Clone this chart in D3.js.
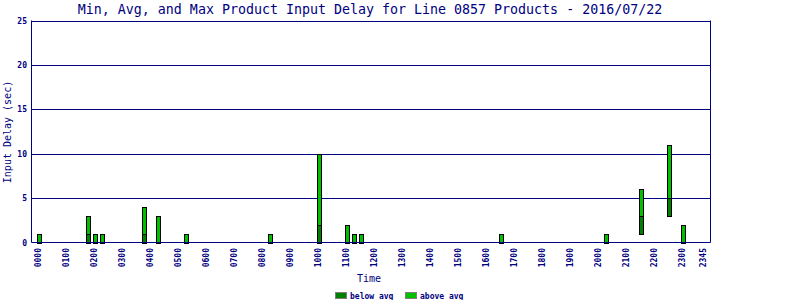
<!DOCTYPE html>
<html><head><meta charset="utf-8">
<script src="https://cdn.jsdelivr.net/npm/d3@7"></script>
<style>
body{margin:0;background:#fff;}
svg{display:block;}
text{font-family:"DejaVu Sans Mono","Liberation Mono",monospace;fill:#000080;}
</style></head>
<body>
<svg id="chart" width="800" height="300"></svg>
<script>
const titleText = "Min, Avg, and Max Product Input Delay for Line 0857 Products - 2016/07/22";
const xTickLabels = ["0000","0100","0200","0300","0400","0500","0600","0700","0800","0900","1000","1100","1200","1300","1400","1500","1600","1700","1800","1900","2000","2100","2200","2300","2345"];
const yTicks = [0,5,10,15,20,25];
const barTimes = ["0000","0145","0200","0215","0345","0415","0515","0815","1000","1100","1115","1130","1630","2015","2130","2230","2300"];
const minVals  = [0,0,0,0,0,0,0,0,0,0,0,0,0,0,1,3,0];
const avgVals  = [0,1,0,0,1,0,0,0,2,0,0,0,0,0,3,5,0];
const maxVals  = [1,3,1,1,4,3,1,1,10,2,1,1,1,1,6,11,2];
const legendLabels = ["below avg","above avg"];

const navy = "#000080", dark = "#008000", light = "#00c000";
const svg = d3.select("#chart");

const slots = [];
for (let h = 0; h < 24; h++) for (const m of ["00","15","30","45"]) slots.push(String(h).padStart(2,"0") + m);

const L = 31.5, R = 710.5, T = 20.5, B = 242.5;
const x = d3.scalePoint().domain(slots).range([38, 703]);
const y = d3.scaleLinear().domain([0, 25]).range([B, T]);

// gridlines
svg.append("g").selectAll("line").data(yTicks.filter(d => d > 0)).join("line")
  .attr("x1", L).attr("x2", R).attr("y1", d => Math.round(y(d)) + 0.5).attr("y2", d => Math.round(y(d)) + 0.5)
  .attr("stroke", navy).attr("stroke-width", 1);

// frame
svg.append("line").attr("x1", L).attr("x2", L).attr("y1", T).attr("y2", B).attr("stroke", navy);
svg.append("line").attr("x1", R).attr("x2", R).attr("y1", T).attr("y2", B).attr("stroke", navy);

// bars
const bars = barTimes.map((t, i) => ({t, min: minVals[i], avg: avgVals[i], max: maxVals[i]}));
const g = svg.append("g");
bars.forEach(d => {
  const bx = x(d.t) - 0.5;
  if (d.avg > d.min) {
    g.append("rect").attr("x", bx).attr("width", 4)
      .attr("y", Math.round(y(d.avg)) + 0.5).attr("height", Math.round(y(d.min)) - Math.round(y(d.avg)))
      .attr("fill", dark).attr("stroke", "#000").attr("stroke-width", 1);
  }
  const lo = Math.max(d.avg, d.min);
  g.append("rect").attr("x", bx).attr("width", 4)
    .attr("y", Math.round(y(d.max)) + 0.5).attr("height", Math.round(y(lo)) - Math.round(y(d.max)))
    .attr("fill", light).attr("stroke", "#000").attr("stroke-width", 1);
});

// bottom axis line
svg.append("line").attr("x1", L).attr("x2", R).attr("y1", B).attr("y2", B).attr("stroke", navy);

// y tick labels
svg.append("g").selectAll("text").data(yTicks).join("text")
  .attr("x", 27).attr("y", d => y(d) + 3)
  .attr("text-anchor", "end").attr("font-size", 8).attr("font-weight", "bold")
  .text(d => d);

// x tick labels
svg.append("g").selectAll("text").data(xTickLabels).join("text")
  .attr("transform", d => `translate(${x(d) + 3},248) rotate(-90)`)
  .attr("text-anchor", "end").attr("font-size", 8).attr("font-weight", "bold")
  .text(d => d);

// title
svg.append("text").attr("x", 370).attr("y", 14).attr("text-anchor", "middle")
  .attr("font-size", 13.3).text(titleText);

// axis titles
svg.append("text").attr("x", 369).attr("y", 282).attr("text-anchor", "middle")
  .attr("font-size", 10).text("Time");
svg.append("text").attr("transform", "translate(11,132) rotate(-90)").attr("text-anchor", "middle")
  .attr("font-size", 10).text("Input Delay (sec)");

// legend
const lg = svg.append("g");
[[335, dark, 350], [405, light, 420]].forEach((p, i) => {
  lg.append("rect").attr("x", p[0] + 0.5).attr("y", 292.5).attr("width", 11).attr("height", 6)
    .attr("fill", p[1]).attr("stroke", "#808080");
  lg.append("text").attr("x", p[2]).attr("y", 299).attr("font-size", 8).attr("font-weight", "bold")
    .text(legendLabels[i]);
});
</script>
</body></html>
